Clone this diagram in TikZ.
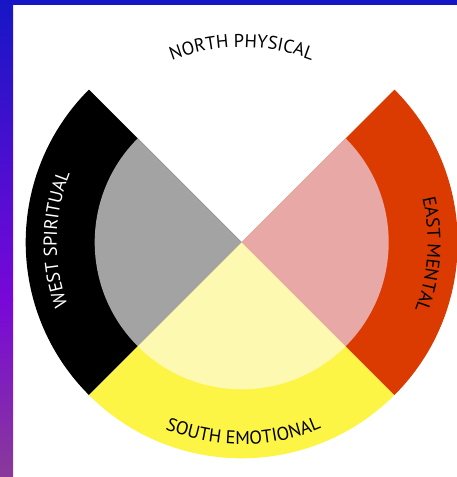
\documentclass[tikz,border=0pt]{standalone}
\usepackage{fontspec}
\newfontfamily\wheelfont{PT Sans}
\usetikzlibrary{decorations.text}
\definecolor{ringblack}{HTML}{000000}
\definecolor{ringred}{HTML}{DB3A00}
\definecolor{ringyellow}{HTML}{FDF545}
\definecolor{innergray}{HTML}{A3A3A3}
\definecolor{innerpink}{HTML}{E8A8A5}
\definecolor{inneryellow}{HTML}{FDF9B0}
\definecolor{bgblue}{HTML}{1616C6}
\definecolor{bgpurple}{HTML}{7808D8}
\definecolor{bgmagenta}{HTML}{8A3A9A}
\newcommand{\wheeltext}[1]{|\wheelfont\fontsize{18.5pt}{20pt}\selectfont|#1}
\begin{document}
\begin{tikzpicture}[x=1pt,y=1pt,
  labelpath/.style={decorate, decoration={text along path, text align=center, text color=#1}},
  labelpath/.default=black]
\useasboundingbox (0,0) rectangle (457,477);
% background frame
\fill[white] (0,0) rectangle (457,477);
\shade[top color=bgblue, bottom color=bgpurple] (0,177) rectangle (13,477);
\shade[top color=bgpurple, bottom color=bgmagenta] (0,0) rectangle (13,177.5);
\fill[bgblue] (0,472) rectangle (457,477);
\coordinate (c) at (241.7,234.7);
% outer ring sectors
\fill[ringblack] (c) -- ([shift={(135:216pt)}]c) arc[start angle=135, end angle=225, radius=216pt] -- cycle;
\fill[ringyellow] (c) -- ([shift={(225:216pt)}]c) arc[start angle=225, end angle=315, radius=216pt] -- cycle;
\fill[ringred] (c) -- ([shift={(-45:216pt)}]c) arc[start angle=-45, end angle=45, radius=216pt] -- cycle;
% inner sectors
\fill[innergray] (c) -- ([shift={(135:147pt)}]c) arc[start angle=135, end angle=225, radius=147pt] -- cycle;
\fill[inneryellow] (c) -- ([shift={(225:147pt)}]c) arc[start angle=225, end angle=315, radius=147pt] -- cycle;
\fill[innerpink] (c) -- ([shift={(-45:147pt)}]c) arc[start angle=-45, end angle=45, radius=147pt] -- cycle;
% labels
\path[labelpath, decoration={text={\wheeltext{NORTH PHYSICAL}}}]
  ([shift={(125:195pt)}]c) arc[start angle=125, end angle=55, radius=195pt];
\path[labelpath=white, decoration={text={\wheeltext{WEST SPIRITUAL}}}]
  ([shift={(214:185pt)}]c) arc[start angle=214, end angle=144, radius=185pt];
\path[labelpath, decoration={text={\wheeltext{EAST MENTAL}}}]
  ([shift={(31.3:186pt)}]c) arc[start angle=31.3, end angle=-38.7, radius=186pt];
\path[labelpath, decoration={text={\wheeltext{SOUTH EMOTIONAL}}}]
  ([shift={(235.5:202pt)}]c) arc[start angle=235.5, end angle=305.5, radius=202pt];
\end{tikzpicture}
\end{document}
